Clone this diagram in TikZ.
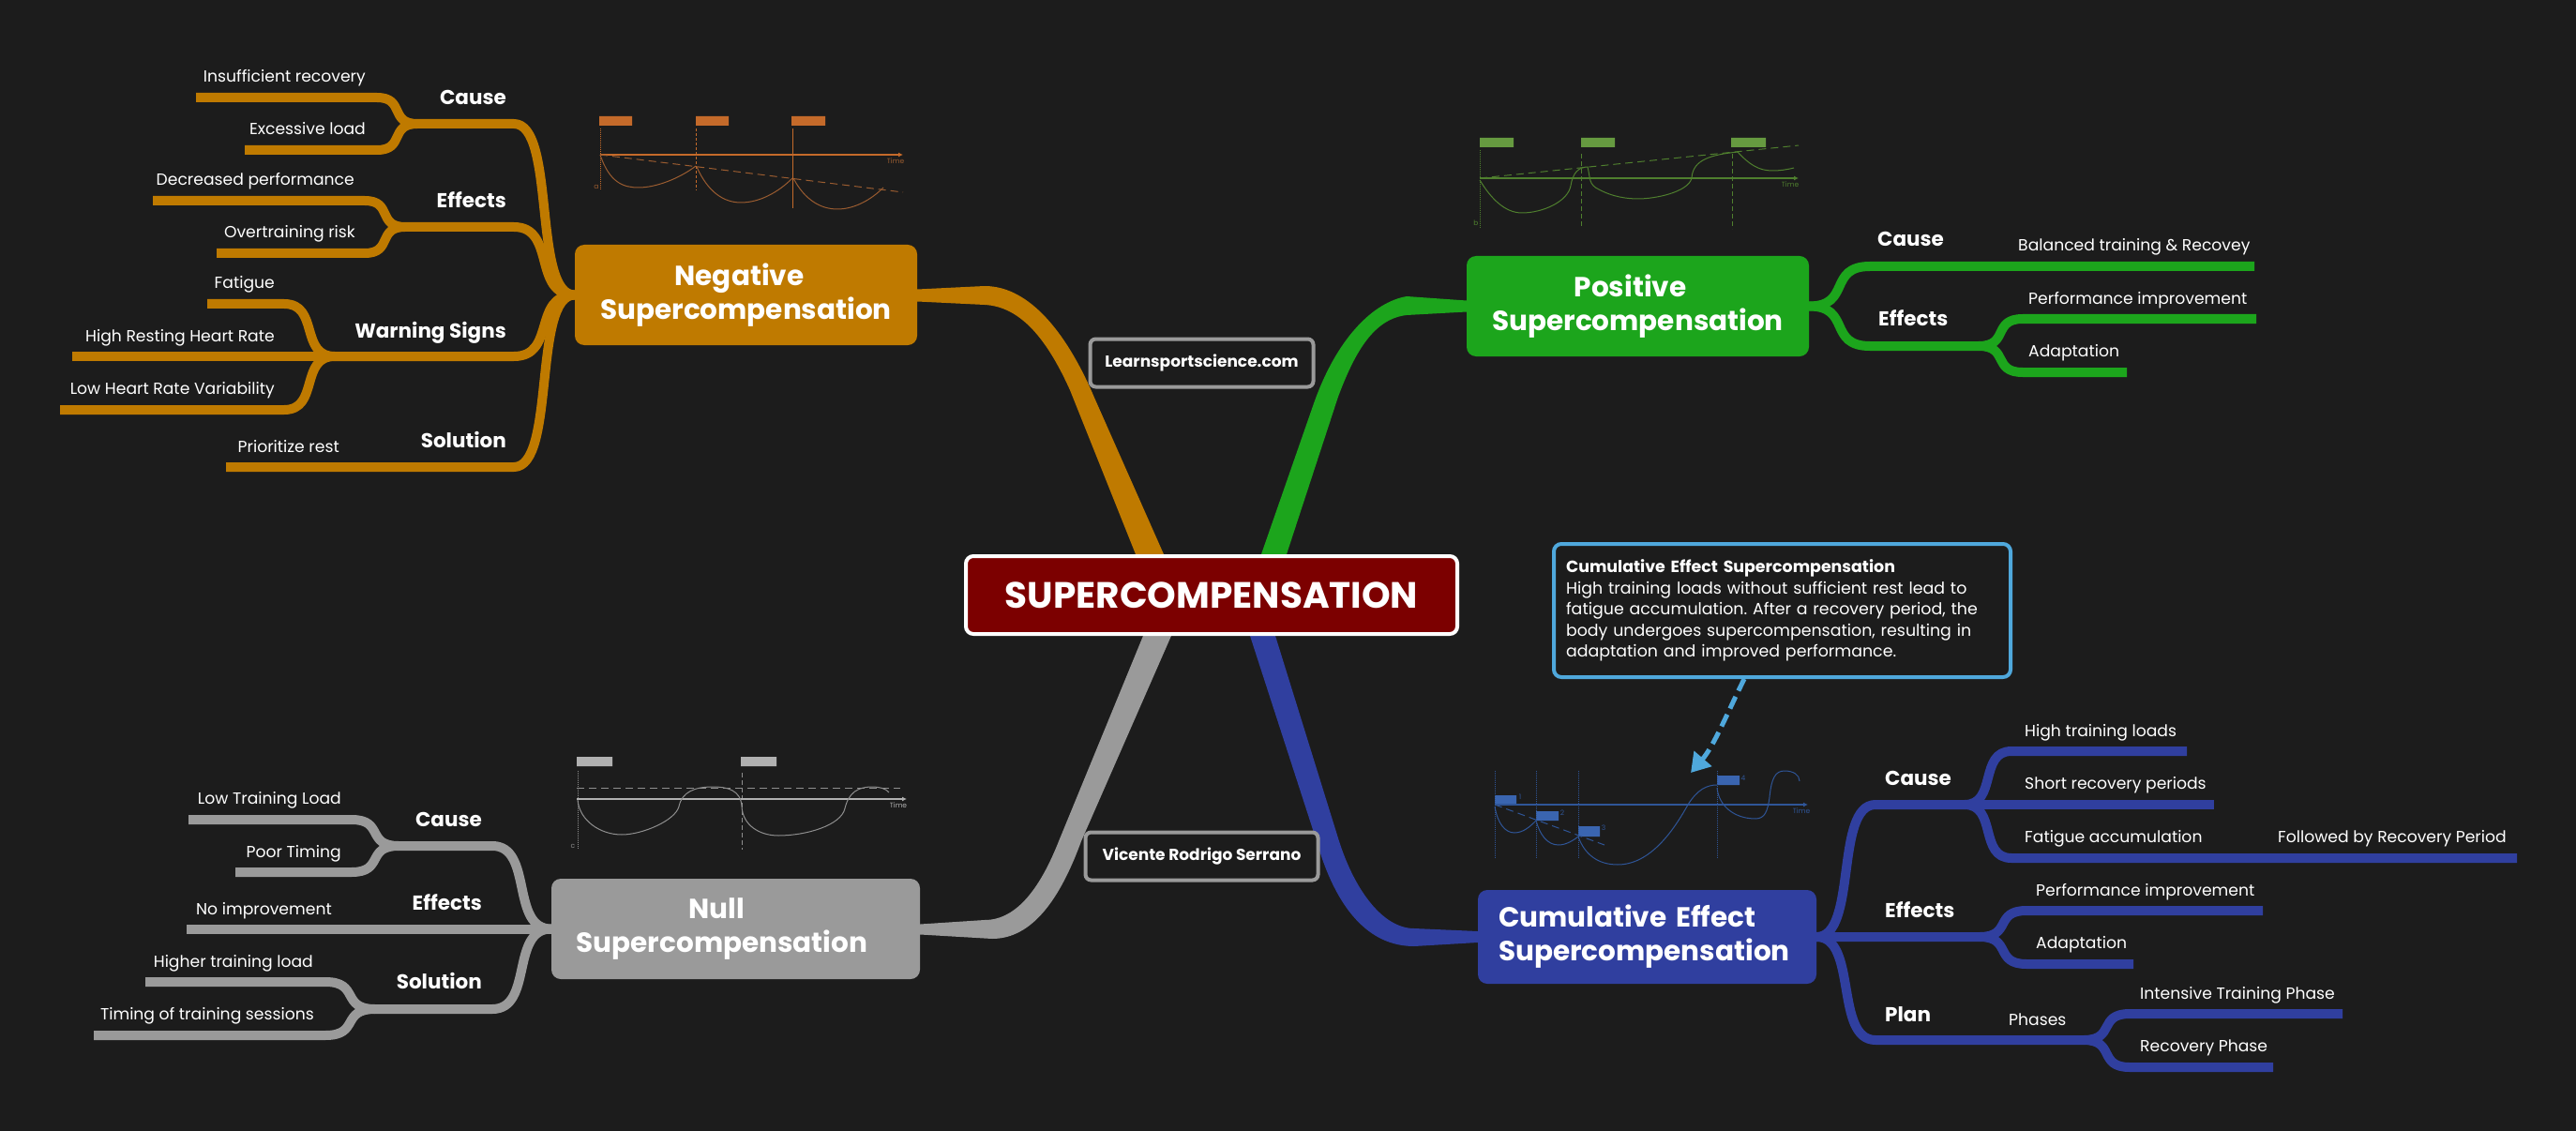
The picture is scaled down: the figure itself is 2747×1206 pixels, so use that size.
\documentclass[tikz,border=0pt]{standalone}
\usepackage{fontspec}
\setmainfont{Poppins}
\usetikzlibrary{arrows.meta,backgrounds,calc}
\frenchspacing
\definecolor{page}{HTML}{1C1C1C}
\definecolor{rootred}{HTML}{7C0000}
\definecolor{negcol}{HTML}{BF7A00}
\definecolor{poscol}{HTML}{1CA51C}
\definecolor{nulcol}{HTML}{9A9A9A}
\definecolor{cumcol}{HTML}{303F9F}
\definecolor{hintcol}{HTML}{4FA8DC}
\definecolor{negbar}{HTML}{C46A2A}
\definecolor{negcurve}{HTML}{9A5C30}
\definecolor{posbar}{HTML}{669A40}
\definecolor{poscurve}{HTML}{4F7F2E}
\definecolor{nulbar}{HTML}{B0B0B0}
\definecolor{nulcurve}{HTML}{8E8E8E}
\definecolor{cumbar}{HTML}{3A65B0}
\definecolor{cumcurve}{HTML}{2F5597}
\tikzset{
  limb/.style={
    to path={let \p1=(\tikztostart),\p2=(\tikztotarget),\n1={.7*(\x2-\x1)},\n2={-.7*(\x2-\x1)} in
      .. controls +(\n1,0) and +(\n2,0) .. (\tikztotarget) \tikztonodes}
  },
  twig/.style={draw=#1,line width=10pt,line join=round},
  main/.style={
    fill=#1,
    rounded corners=10pt,
    minimum width=365pt,
    minimum height=107pt,
    inner sep=0pt,
    text=white,
    align=center,
    font=\fontsize{29.5}{36}\selectfont\bfseries
  },
  topic/.style={text=white,anchor=base east,inner sep=0pt,font=\fontsize{21.5}{24}\selectfont\bfseries},
  topicr/.style={topic,anchor=base west},
  leaf/.style={text=white,anchor=base east,inner sep=0pt,font=\fontsize{17.2}{20}\selectfont},
  leafr/.style={leaf,anchor=base west},
  tag/.style={
    draw=nulcol,
    fill=page,
    line width=4pt,
    rounded corners=6pt,
    minimum height=51pt,
    inner sep=0pt,
    text=white,
    font=\fontsize{17}{20}\selectfont\bfseries
  },
  axisnote/.style={inner sep=0pt,font=\fontsize{7.5}{9}\selectfont}
}
\begin{document}
\begin{tikzpicture}[x=1pt,y=-1pt]
\useasboundingbox (0,0) rectangle (2747,1206);

\node[
  draw=white,
  fill=rootred,
  line width=4pt,
  rounded corners=8pt,
  minimum width=524pt,
  minimum height=83pt,
  inner sep=0pt,
  text=white,
  font=\fontsize{39}{44}\selectfont\bfseries
] (root) at (1292,634.5) {SUPERCOMPENSATION};

\node[main=negcol] (neg) at (795.5,314.5) {Negative\hspace*{14pt}\\Supercompensation};
\node[main=poscol] (pos) at (1746.5,326.5) {Positive\hspace*{16pt}\\Supercompensation};
\node[main=nulcol,minimum width=393pt] (nul) at (784.5,990.5) {Null\hspace*{41pt}\\Supercompensation\hspace*{29pt}};
\node[main=cumcol,minimum width=361pt,minimum height=100pt,align=left,text width=317pt] (cum) at (1756.5,999) {Cumulative Effect\\Supercompensation};

\node[tag,minimum width=238pt] (site) at (1281.5,387) {Learnsportscience.com};
\node[tag,minimum width=248pt] (name) at (1281.5,913) {Vicente Rodrigo Serrano};
\node[
  draw=hintcol,
  fill=page,
  line width=4pt,
  rounded corners=8pt,
  minimum width=487pt,
  minimum height=142pt,
  inner sep=0pt,
  text width=461pt,
  align=left,
  text=white,
  font=\fontsize{17.4}{22.6}\selectfont
] (hint) at (1900.5,651) {\textbf{Cumulative Effect Supercompensation}\\High training loads without sufficient rest lead to\\fatigue accumulation. After a recovery period, the\\body undergoes supercompensation, resulting in\\adaptation and improved performance.};

\begin{scope}[on background layer]
\fill[page] (0,0) rectangle (2747,1206);
\fill[negcol] ($(neg.east)+(0,-6)$) -- (1050,305) .. controls (1100,305) and (1140,360) .. (1167,424) -- (1241,591)
  -- (1211,591) -- (1141,416) .. controls (1118,365) and (1090,327) .. (1050,325) -- ($(neg.east)+(0,7)$) -- cycle;
\fill[poscol] ($(pos.west)+(0,-6)$) -- (1500,316) .. controls (1465,322) and (1425,360) .. (1400,433) -- (1345,591)
  -- (1372,591) -- (1427,423) .. controls (1445,375) and (1465,340) .. (1500,336) -- ($(pos.west)+(0,6)$) -- cycle;
\fill[nulcol] ($(nul.east)+(0,-5)$) -- (1050,981) .. controls (1085,981) and (1110,945) .. (1129,897) -- (1219,678)
  -- (1249,678) -- (1153,897) .. controls (1130,960) and (1100,1001) .. (1058,1001) -- ($(nul.east)+(0,6)$) -- cycle;
\fill[cumcol] ($(cum.west)+(0,-6)$) -- (1508,990) .. controls (1475,990) and (1445,950) .. (1428,897) -- (1360,678)
  -- (1333,678) -- (1404,897) .. controls (1425,970) and (1460,1009) .. (1508,1009) -- ($(cum.west)+(0,6)$) -- cycle;
\end{scope}

\coordinate (nca) at (548,132);
\coordinate (ncb) at (445,132);
\coordinate (ncc) at (402,104);
\coordinate (ncd) at (209,104);
\coordinate (nce) at (402,160);
\coordinate (ncf) at (261,160);
\coordinate (nea) at (548,242);
\coordinate (neb) at (432,242);
\coordinate (nec) at (389,214);
\coordinate (ned) at (163,214);
\coordinate (nee) at (389,270);
\coordinate (nef) at (231,270);
\coordinate (nwa) at (548,380);
\coordinate (nwb) at (357,380);
\coordinate (nwc) at (303,324);
\coordinate (nwd) at (221,324);
\coordinate (nwe) at (77,380);
\coordinate (nwf) at (303,437);
\coordinate (nwg) at (64,437);
\coordinate (nsa) at (548,498);
\coordinate (nsb) at (241,498);
\draw[twig=negcol] (neg.west) to[limb] (nca) -- (ncb) to[limb] (ncc) -- (ncd);
\draw[twig=negcol] (ncb) to[limb] (nce) -- (ncf);
\draw[twig=negcol] (neg.west) to[limb] (nea) -- (neb) to[limb] (nec) -- (ned);
\draw[twig=negcol] (neb) to[limb] (nee) -- (nef);
\draw[twig=negcol] (neg.west) to[limb] (nwa) -- (nwb) to[limb] (nwc) -- (nwd);
\draw[twig=negcol] (nwb) -- (nwe);
\draw[twig=negcol] (nwb) to[limb] (nwf) -- (nwg);
\draw[twig=negcol] (neg.west) to[limb] (nsa) -- (nsb);
\node[topic] (ncause) at (540,112) {Cause};
\node[leaf] (ninsuff) at (390,88) {Insufficient recovery};
\node[leaf] (nexcess) at (390,144) {Excessive load};
\node[topic] (neffects) at (540,222) {Effects};
\node[leaf] (ndecr) at (378,198) {Decreased performance};
\node[leaf] (nover) at (379,254) {Overtraining risk};
\node[topic] (nwarn) at (540,360) {Warning Signs};
\node[leaf] (nfat) at (293,308) {Fatigue};
\node[leaf] (nhigh) at (293,364) {High Resting Heart Rate};
\node[leaf] (nlow) at (293,420) {Low Heart Rate Variability};
\node[topic] (nsol) at (540,477) {Solution};
\node[leaf] (nprio) at (362,482) {Prioritize rest};

\coordinate (pca) at (1994,284);
\coordinate (pcb) at (2404,284);
\coordinate (pea) at (1994,369);
\coordinate (peb) at (2110,369);
\coordinate (pec) at (2157,340);
\coordinate (ped) at (2406,340);
\coordinate (pee) at (2157,397);
\coordinate (pef) at (2268,397);
\draw[twig=poscol] (pos.east) to[limb] (pca) -- (pcb);
\draw[twig=poscol] (pos.east) to[limb] (pea) -- (peb) to[limb] (pec) -- (ped);
\draw[twig=poscol] (peb) to[limb] (pee) -- (pef);
\node[topicr] (pcause) at (2002,263) {Cause};
\node[leafr] (pbal) at (2152,268) {Balanced training \& Recovey};
\node[topicr] (peffects) at (2003,348) {Effects};
\node[leafr] (pperf) at (2163,324) {Performance improvement};
\node[leafr] (padapt) at (2163,380) {Adaptation};

\coordinate (uca) at (525,902);
\coordinate (ucb) at (425,902);
\coordinate (ucc) at (375,874);
\coordinate (ucd) at (201,874);
\coordinate (uce) at (375,930);
\coordinate (ucf) at (251,930);
\coordinate (uea) at (199,990.5);
\coordinate (usa) at (525,1076);
\coordinate (usb) at (400,1076);
\coordinate (usc) at (347,1047);
\coordinate (usd) at (155,1047);
\coordinate (use) at (347,1104);
\coordinate (usf) at (100,1104);
\draw[twig=nulcol] (nul.west) to[limb] (uca) -- (ucb) to[limb] (ucc) -- (ucd);
\draw[twig=nulcol] (ucb) to[limb] (uce) -- (ucf);
\draw[twig=nulcol] (nul.west) -- (uea);
\draw[twig=nulcol] (nul.west) to[limb] (usa) -- (usb) to[limb] (usc) -- (usd);
\draw[twig=nulcol] (usb) to[limb] (use) -- (usf);
\node[topic] (ucause) at (514,881) {Cause};
\node[leaf] (ulow) at (364,857) {Low Training Load};
\node[leaf] (upoor) at (364,914) {Poor Timing};
\node[topic] (ueffects) at (514,970) {Effects};
\node[leaf] (uno) at (354,975) {No improvement};
\node[topic] (usol) at (514,1054) {Solution};
\node[leaf] (uhigh) at (334,1031) {Higher training load};
\node[leaf] (utim) at (335,1087) {Timing of training sessions};

\coordinate (cca) at (2000,858);
\coordinate (ccb) at (2095,858);
\coordinate (ccc) at (2145,801);
\coordinate (ccd) at (2332,801);
\coordinate (cce) at (2361,858);
\coordinate (ccf) at (2145,915);
\coordinate (ccg) at (2684,915);
\coordinate (cea) at (2111,999);
\coordinate (ceb) at (2161,971);
\coordinate (cec) at (2413,971);
\coordinate (ced) at (2161,1028);
\coordinate (cee) at (2275,1028);
\coordinate (cpa) at (2000,1109);
\coordinate (cpb) at (2222,1109);
\coordinate (cpc) at (2271,1081);
\coordinate (cpd) at (2498,1081);
\coordinate (cpe) at (2271,1138);
\coordinate (cpf) at (2424,1138);
\draw[twig=cumcol] (cum.east) to[limb] (cca) -- (ccb) to[limb] (ccc) -- (ccd);
\draw[twig=cumcol] (ccb) -- (cce);
\draw[twig=cumcol] (ccb) to[limb] (ccf) -- (ccg);
\draw[twig=cumcol] (cum.east) -- (cea) to[limb] (ceb) -- (cec);
\draw[twig=cumcol] (cea) to[limb] (ced) -- (cee);
\draw[twig=cumcol] (cum.east) to[limb] (cpa) -- (cpb) to[limb] (cpc) -- (cpd);
\draw[twig=cumcol] (cpb) to[limb] (cpe) -- (cpf);
\node[topicr] (ccause) at (2010,837) {Cause};
\node[leafr] (chigh) at (2159,785) {High training loads};
\node[leafr] (cshort) at (2159,841) {Short recovery periods};
\node[leafr] (cfat) at (2159,898) {Fatigue accumulation};
\node[leafr] (cfoll) at (2429,898) {Followed by Recovery Period};
\node[topicr] (ceffects) at (2010,978) {Effects};
\node[leafr] (cperf) at (2171,955) {Performance improvement};
\node[leafr] (cadapt) at (2171,1011) {Adaptation};
\node[topicr] (cplan) at (2010,1089) {Plan};
\node[leafr] (cphases) at (2142,1093) {Phases};
\node[leafr] (cint) at (2282,1065) {Intensive Training Phase};
\node[leafr] (crec) at (2282,1121) {Recovery Phase};

\coordinate (hintout) at (1860,724);
\coordinate (hintin) at (1803,824);
\draw[
  draw=hintcol,
  line width=5pt,
  dash pattern=on 14pt off 7pt,
  -{Triangle[length=20pt,width=24pt]}
] (hintout) .. controls (1842,760) and (1828,795) .. (hintin);

\fill[negbar] (639,124) rectangle (674,134) (742,124) rectangle (777,134) (844,124) rectangle (880,134);
\draw[negbar,line width=1pt,densely dotted] (640,137) -- (640,203);
\draw[negbar,line width=1pt,densely dashed] (742.5,137) -- (742.5,203);
\draw[negbar,line width=1pt] (845.5,137) -- (845.5,222);
\draw[negbar,line width=1.5pt,-{Latex[length=5pt,width=5pt]}] (640,165) -- (963,165);
\draw[negcurve,line width=1pt,dash pattern=on 8pt off 5pt] (640,165) -- (963,205);
\draw[negcurve,line width=1pt] (640,165) .. controls (650,195) and (665,200) .. (681,200) .. controls (700,200) and (725,190) .. (742,177);
\draw[negcurve,line width=1pt] (743,178) .. controls (755,205) and (772,216) .. (790,216) .. controls (810,216) and (830,205) .. (845,190);
\draw[negcurve,line width=1pt] (846,190) .. controls (858,213) and (875,223) .. (893,223) .. controls (912,223) and (930,212) .. (942,200);
\node[axisnote,text=negcurve] (ntime) at (955,172) {Time};
\node[axisnote,text=negcurve] (nletter) at (636,199) {a};

\fill[posbar] (1578,147) rectangle (1614,157) (1686,147) rectangle (1722,157) (1846,147) rectangle (1883,157);
\draw[poscurve,line width=1pt,densely dotted] (1578,160) -- (1578,243);
\draw[poscurve,line width=1pt,dash pattern=on 5pt off 3pt] (1686,164) -- (1686,243);
\draw[poscurve,line width=1pt,dash pattern=on 5pt off 3pt] (1847,164) -- (1847,244);
\draw[poscurve,line width=1.5pt,-{Latex[length=5pt,width=5pt]}] (1578,190) -- (1918,190);
\draw[poscurve,line width=1pt,dash pattern=on 8pt off 5pt] (1578,190) -- (1918,155);
\draw[poscurve,line width=1pt] (1578,192) .. controls (1590,212) and (1605,227) .. (1623,227) .. controls (1645,227) and (1672,215) .. (1675,198)
  .. controls (1677,185) and (1683,178) .. (1693,178) .. controls (1696,190) and (1694,197) .. (1705,202)
  .. controls (1720,210) and (1735,212) .. (1747,212) .. controls (1765,212) and (1800,205) .. (1804,190)
  .. controls (1805,170) and (1825,165) .. (1853,162) .. controls (1865,175) and (1875,182) .. (1890,182) .. controls (1898,182) and (1905,181) .. (1913,179);
\node[axisnote,text=poscurve] (ptime) at (1909,197) {Time};
\node[axisnote,text=poscurve] (pletter) at (1574,238) {b};

\fill[nulbar] (615,807) rectangle (653,817) (790,807) rectangle (828,817);
\draw[nulcurve,line width=1pt,densely dotted] (616,822) -- (616,906);
\draw[nulcurve,line width=1pt,dash pattern=on 5pt off 3pt] (791,824) -- (791,906);
\draw[nulbar,line width=1.5pt,-{Latex[length=5pt,width=5pt]}] (615,852) -- (967,852);
\draw[nulcurve,line width=1pt,dash pattern=on 8pt off 5pt] (615,840) -- (960,840);
\draw[nulcurve,line width=1pt] (616,853) .. controls (618,875) and (640,890) .. (663,890) .. controls (685,890) and (720,875) .. (724,860)
  .. controls (727,845) and (740,839) .. (760,839) .. controls (775,839) and (790,842) .. (791,860)
  .. controls (792,880) and (810,891) .. (830,891) .. controls (860,891) and (897,880) .. (901,862)
  .. controls (905,845) and (915,839) .. (930,839) .. controls (938,839) and (945,841) .. (948,845);
\node[axisnote,text=nulbar] (utime) at (958,859) {Time};
\node[axisnote,text=nulcurve] (uletter) at (611,902) {c};

\fill[cumbar] (1594,848) rectangle (1617,858) (1638,865) rectangle (1662,875) (1683,881) rectangle (1706,892) (1831,827) rectangle (1855,837);
\foreach \vx in {1594,1638.5,1683,1831.5}
  \draw[cumcurve,line width=1pt,densely dotted] (\vx,822) -- (\vx,916);
\draw[cumcurve,line width=1.5pt,-{Latex[length=5pt,width=5pt]}] (1594,858) -- (1928,858);
\draw[cumcurve,line width=1pt,dash pattern=on 8pt off 5pt] (1594,858) -- (1711,901);
\draw[cumcurve,line width=1pt] (1594,860) .. controls (1597,878) and (1605,888) .. (1615,888) .. controls (1625,888) and (1633,880) .. (1638,875);
\draw[cumcurve,line width=1pt] (1638,875) .. controls (1642,890) and (1650,901) .. (1662,901) .. controls (1670,901) and (1678,896) .. (1683,892);
\draw[cumcurve,line width=1pt] (1683,892) .. controls (1690,912) and (1705,922) .. (1725,922) .. controls (1760,922) and (1785,885) .. (1800,858) .. controls (1810,842) and (1820,837) .. (1831,837);
\draw[cumcurve,line width=1pt] (1831,840) .. controls (1833,860) and (1850,873) .. (1872,873) .. controls (1882,873) and (1885,865) .. (1887,850) .. controls (1889,830) and (1893,822) .. (1903,822) .. controls (1912,822) and (1919,826) .. (1919,833);
\node[axisnote,text=cumcurve] (ctime) at (1921,865) {Time};
\node[axisnote,text=cumcurve] (cone) at (1621,850) {1};
\node[axisnote,text=cumcurve] (ctwo) at (1666,867) {2};
\node[axisnote,text=cumcurve] (cthree) at (1710,883) {3};
\node[axisnote,text=cumcurve] (cfour) at (1859,830) {4};
\end{tikzpicture}
\end{document}
